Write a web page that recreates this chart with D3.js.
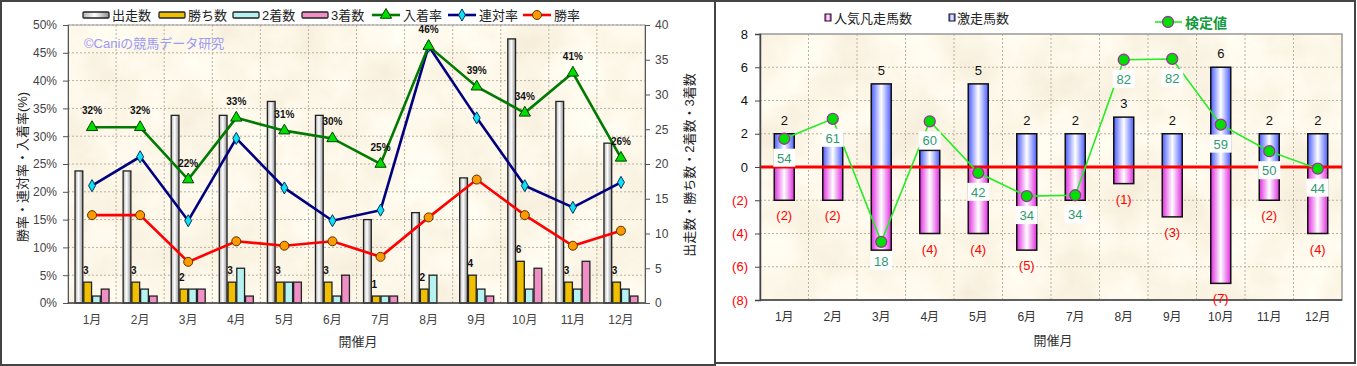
<!DOCTYPE html>
<html><head><meta charset="utf-8">
<script src="https://cdn.jsdelivr.net/npm/d3@7"></script>
<style>body{margin:0;background:#fff}svg{display:block;font-family:"Liberation Sans","Noto Sans CJK JP",sans-serif}</style>
</head><body>
<script>
// ---------- data ----------
const months = ['1月','2月','3月','4月','5月','6月','7月','8月','9月','10月','11月','12月'];
// left chart (counts, right axis)
const starts  = [19,19,27,27,29,27,12,13,18,38,29,23];
const wins    = [3,3,2,3,3,3,1,2,4,6,3,3];
const seconds = [1,2,2,5,3,1,1,4,2,2,2,2];
const thirds  = [2,1,2,1,3,4,1,0,1,5,6,1];
// left chart (rates %, left axis)
const placeRate   = [31.6,31.6,22.2,33.3,31.0,29.6,25.0,46.2,38.9,34.2,41.4,26.1];
const rentaiRate  = [21.1,26.3,14.8,29.6,20.7,14.8,16.7,46.2,33.3,21.1,17.2,21.7];
const winRate     = [15.8,15.8,7.4,11.1,10.3,11.1,8.3,15.4,22.2,15.8,10.3,13.0];
const placeLabels = ['32%','32%','22%','33%','31%','30%','25%','46%','39%','34%','41%','26%'];
const leftPctTicks = [0,5,10,15,20,25,30,35,40,45,50];
const leftCntTicks = [0,5,10,15,20,25,30,35,40];
// right chart
const hotRuns  = [2,2,5,1,5,2,2,3,2,6,2,2];      // 激走馬数
const failRuns = [2,2,5,4,4,5,2,1,3,7,2,4];      // 人気凡走馬数 (drawn downward)
const kenteiPos    = [1.7,2.9,-4.5,2.75,-0.35,-1.75,-1.7,6.45,6.5,2.55,0.95,-0.1];
const kenteiLabels = [54,61,18,60,42,34,34,82,82,59,50,44];
const rightTicks = [-8,-6,-4,-2,0,2,4,6,8];

// ---------- svg ----------
const W = 1357, H = 366;
const svg = d3.select('body').append('svg').attr('width', W).attr('height', H);
const defs = svg.append('defs');

function hGrad(id, edgeL, mid, edgeR, midOff) {
  const g = defs.append('linearGradient').attr('id', id).attr('x1','0').attr('x2','1').attr('y1','0').attr('y2','0');
  g.append('stop').attr('offset','0').attr('stop-color', edgeL);
  g.append('stop').attr('offset', midOff || '0.45').attr('stop-color', mid);
  g.append('stop').attr('offset','1').attr('stop-color', edgeR);
}
hGrad('gStart', '#b4b4b4', '#ffffff', '#8e8e8e', '0.45');
hGrad('gBlue', '#4a5cff', '#ffffff', '#4a5cff', '0.5');
hGrad('gPink', '#e02ce0', '#ffffff', '#e02ce0', '0.5');

const f = defs.append('filter').attr('id','paper').attr('x','0').attr('y','0').attr('width','1').attr('height','1');
f.append('feTurbulence').attr('type','fractalNoise').attr('baseFrequency','0.018').attr('numOctaves','4').attr('seed','7').attr('result','n');
f.append('feColorMatrix').attr('in','n').attr('type','matrix')
  .attr('values','0.16 0 0 0 0.90  0.22 0 0 0 0.82  0.30 0 0 0 0.66  0 0 0 0 1');

// panels
svg.append('rect').attr('x',1).attr('y',1).attr('width',714).attr('height',364).attr('fill','#fff').attr('stroke','#444').attr('stroke-width',2);
svg.append('rect').attr('x',715).attr('y',1).attr('width',640).attr('height',362).attr('fill','#fff').attr('stroke','#444').attr('stroke-width',2);

// ================= LEFT CHART =================
const L = {x0:68, x1:645, y0:25, y1:303};
const xL = d3.scaleBand().domain(months).range([L.x0, L.x1]);
const yPct = d3.scaleLinear().domain([0,50]).range([L.y1, L.y0]);
const yCnt = d3.scaleLinear().domain([0,40]).range([L.y1, L.y0]);
const sub = d3.scaleBand().domain([0,1,2,3]).range([0,35]);
const gL = svg.append('g');

gL.append('rect').attr('x',L.x0).attr('y',L.y0).attr('width',L.x1-L.x0).attr('height',L.y1-L.y0).attr('filter','url(#paper)');
// grid
gL.selectAll('.hg').data(leftPctTicks.slice(1)).join('line')
  .attr('x1',L.x0).attr('x2',L.x1).attr('y1',d=>yPct(d)).attr('y2',d=>yPct(d))
  .attr('stroke','#b8b0a0').attr('stroke-dasharray','2,2');
gL.selectAll('.vg').data(months.slice(1)).join('line')
  .attr('x1',d=>xL(d)).attr('x2',d=>xL(d)).attr('y1',L.y0).attr('y2',L.y1)
  .attr('stroke','#b8b0a0').attr('stroke-dasharray','2,2');
gL.append('rect').attr('x',L.x0).attr('y',L.y0).attr('width',L.x1-L.x0).attr('height',L.y1-L.y0).attr('fill','none').attr('stroke','#999');

const off = (xL.bandwidth() - 35) / 2;
const barSeries = [
  {vals: starts, fill: 'url(#gStart)'},
  {vals: wins, fill: '#f0c000'},
  {vals: seconds, fill: '#b6f2f2'},
  {vals: thirds, fill: '#f08ec6'}
];
barSeries.forEach((s, i) => {
  gL.selectAll(null).data(months).join('rect')
    .attr('x', d => xL(d) + off + sub(i) + 0.5)
    .attr('width', sub.bandwidth() - 1)
    .attr('y', (d, j) => yCnt(s.vals[j]))
    .attr('height', (d, j) => yCnt(0) - yCnt(s.vals[j]))
    .attr('fill', s.fill).attr('stroke', '#222').attr('stroke-width', 1.3)
    .attr('display', (d, j) => s.vals[j] > 0 ? null : 'none');
});
// wins labels
gL.selectAll(null).data(months).join('text')
  .attr('x', d => xL(d) + off + sub(1) + sub.bandwidth()/2 - 2)
  .attr('y', (d, j) => yCnt(wins[j]) - 8)
  .attr('text-anchor','middle').attr('font-size',10).attr('font-weight','bold').attr('fill','#111')
  .text((d, j) => wins[j]);

// axes
const axL = gL.append('g').attr('transform', `translate(${L.x0},0)`)
  .call(d3.axisLeft(yPct).tickValues(leftPctTicks).tickFormat(d => d + '%').tickSize(5).tickPadding(6));
const axR = gL.append('g').attr('transform', `translate(${L.x1},0)`)
  .call(d3.axisRight(yCnt).tickValues(leftCntTicks).tickSize(5).tickPadding(5));
[axL, axR].forEach(a => {
  a.select('.domain').attr('stroke','#555');
  a.selectAll('.tick line').attr('stroke','#555');
  a.selectAll('text').attr('font-size',12).attr('fill','#444').attr('font-family','"Liberation Sans",sans-serif');
});
gL.append('line').attr('x1',L.x0).attr('x2',L.x1).attr('y1',L.y1).attr('y2',L.y1).attr('stroke','#444').attr('stroke-width',1.5);
gL.selectAll(null).data(months).join('text')
  .attr('x', d => xL(d) + xL.bandwidth()/2).attr('y', 324)
  .attr('text-anchor','middle').attr('font-size',12).attr('fill','#444').text(d => d);
gL.append('text').attr('x',358).attr('y',346).attr('text-anchor','middle').attr('font-size',13).attr('fill','#333').text('開催月');
gL.append('text').attr('transform','translate(27,167) rotate(-90)').attr('text-anchor','middle')
  .attr('font-size',13).attr('fill','#222').text('勝率・連対率・入着率(%)');
gL.append('text').attr('transform','translate(694,165) rotate(-90)').attr('text-anchor','middle')
  .attr('font-size',13).attr('fill','#222').text('出走数・勝ち数・2着数・3着数');

// watermark
gL.append('text').attr('x',84).attr('y',48).attr('font-size',13).attr('fill','#9a9af5').text('©Caniの競馬データ研究');

// lines
const cx = d => xL(d) + xL.bandwidth()/2;
const lineSeries = [
  {vals: placeRate, color: '#007a00', sym: 'tri'},
  {vals: rentaiRate, color: '#000080', sym: 'dia'},
  {vals: winRate, color: '#ff0000', sym: 'cir'}
];
[lineSeries[2], lineSeries[1], lineSeries[0]].forEach(s => {
  const ln = d3.line().x((d, j) => cx(months[j])).y(d => yPct(d));
  gL.append('path').attr('d', ln(s.vals)).attr('fill','none').attr('stroke', s.color).attr('stroke-width',2.6);
});
function drawMarker(g, type, x, y) {
  if (type === 'tri') {
    g.append('path').attr('d', d3.symbol(d3.symbolTriangle, 55)()).attr('transform',`translate(${x},${y})`)
      .attr('fill','#00dd00').attr('stroke','#004400').attr('stroke-width',1);
  } else if (type === 'dia') {
    g.append('path').attr('d', d3.symbol(d3.symbolDiamond, 42)()).attr('transform',`translate(${x},${y})`)
      .attr('fill','#10e0f0').attr('stroke','#003366').attr('stroke-width',1);
  } else {
    g.append('circle').attr('cx',x).attr('cy',y).attr('r',4.5)
      .attr('fill','#ff9900').attr('stroke','#553300').attr('stroke-width',1);
  }
}
[lineSeries[2], lineSeries[1], lineSeries[0]].forEach(s => {
  s.vals.forEach((v, j) => drawMarker(gL, s.sym, cx(months[j]), yPct(v)));
});
gL.selectAll(null).data(months).join('text')
  .attr('x', d => cx(d)).attr('y', (d, j) => yPct(placeRate[j]) - 13)
  .attr('text-anchor','middle').attr('font-size',10).attr('font-weight','bold').attr('fill','#111')
  .text((d, j) => placeLabels[j]);

// left legend
const legL = gL.append('g');
const barLeg = [
  {x:83, fill:'url(#gStart)', t:'出走数'},
  {x:159, fill:'#f0c000', t:'勝ち数'},
  {x:233, fill:'#b6f2f2', t:'2着数'},
  {x:302, fill:'#f08ec6', t:'3着数'}
];
barLeg.forEach(b => {
  legL.append('rect').attr('x',b.x).attr('y',12).attr('width',26).attr('height',6).attr('rx',1)
    .attr('fill',b.fill).attr('stroke','#222').attr('stroke-width',1.3);
  legL.append('text').attr('x',b.x+29).attr('y',20).attr('font-size',13).attr('fill','#222').text(b.t);
});
const lineLeg = [
  {x:372, color:'#007a00', sym:'tri', t:'入着率'},
  {x:448, color:'#000080', sym:'dia', t:'連対率'},
  {x:523, color:'#ff0000', sym:'cir', t:'勝率'}
];
lineLeg.forEach(b => {
  legL.append('line').attr('x1',b.x).attr('x2',b.x+28).attr('y1',15).attr('y2',15).attr('stroke',b.color).attr('stroke-width',2.6);
  drawMarker(legL, b.sym, b.x+14, 15);
  legL.append('text').attr('x',b.x+31).attr('y',20).attr('font-size',13).attr('fill','#222').text(b.t);
});

// ================= RIGHT CHART =================
const R = {x0:760, x1:1342, y0:34, y1:300};
const xR = d3.scaleBand().domain(months).range([R.x0, R.x1]);
const yR = d3.scaleLinear().domain([-8,8]).range([R.y1, R.y0]);
const gR = svg.append('g');
gR.append('rect').attr('x',R.x0).attr('y',R.y0).attr('width',R.x1-R.x0).attr('height',R.y1-R.y0).attr('filter','url(#paper)');
gR.selectAll(null).data(rightTicks.slice(1,-1)).join('line')
  .attr('x1',R.x0).attr('x2',R.x1).attr('y1',d=>yR(d)).attr('y2',d=>yR(d))
  .attr('stroke','#b8b0a0').attr('stroke-dasharray','2,2');
gR.selectAll(null).data(months.slice(1)).join('line')
  .attr('x1',d=>xR(d)).attr('x2',d=>xR(d)).attr('y1',R.y0).attr('y2',R.y1)
  .attr('stroke','#b8b0a0').attr('stroke-dasharray','2,2');
gR.append('rect').attr('x',R.x0).attr('y',R.y0).attr('width',R.x1-R.x0).attr('height',R.y1-R.y0).attr('fill','none').attr('stroke','#999').attr('stroke-width',1.5);

const bw = 20;
const rcx = d => xR(d) + xR.bandwidth()/2;
gR.selectAll(null).data(months).join('rect')
  .attr('x', d => rcx(d) - bw/2).attr('width', bw)
  .attr('y', yR(0)).attr('height', (d, j) => yR(-failRuns[j]) - yR(0))
  .attr('fill','url(#gPink)').attr('stroke','#111').attr('stroke-width',1.5);
gR.selectAll(null).data(months).join('rect')
  .attr('x', d => rcx(d) - bw/2).attr('width', bw)
  .attr('y', (d, j) => yR(hotRuns[j])).attr('height', (d, j) => yR(0) - yR(hotRuns[j]))
  .attr('fill','url(#gBlue)').attr('stroke','#111').attr('stroke-width',1.5);
// zero line
gR.append('line').attr('x1',R.x0).attr('x2',R.x1).attr('y1',yR(0)).attr('y2',yR(0)).attr('stroke','#ff0000').attr('stroke-width',3);

// axis
const axR2 = gR.append('g').attr('transform',`translate(${R.x0},0)`)
  .call(d3.axisLeft(yR).tickValues(rightTicks).tickFormat(d => d < 0 ? `(${-d})` : d).tickSize(5).tickPadding(7));
axR2.select('.domain').attr('stroke','#444').attr('stroke-width',1.5);
axR2.selectAll('.tick line').attr('stroke','#444');
axR2.selectAll('text').attr('font-size',13).attr('font-family','"Liberation Sans",sans-serif')
  .attr('fill', d => d < 0 ? '#ff0000' : '#111');
gR.append('line').attr('x1',R.x0).attr('x2',R.x1).attr('y1',R.y1).attr('y2',R.y1).attr('stroke','#444').attr('stroke-width',1.5);

// kentei label boxes (center y) used to hide bar labels that sit beneath them, as in the source chart
const boxY = j => yR(kenteiPos[j]) + 19;
const hiddenBy = (j, ty) => Math.abs(ty - 4 - boxY(j)) < 15 || Math.abs(ty - 4 - yR(kenteiPos[j])) < 8;

// bar labels
gR.selectAll(null).data(months).join('text')
  .attr('x', d => rcx(d)).attr('y', (d, j) => yR(hotRuns[j]) - 9)
  .attr('display', (d, j) => hiddenBy(j, yR(hotRuns[j]) - 9) ? 'none' : null)
  .attr('text-anchor','middle').attr('font-size',13).attr('fill','#111').text((d, j) => hotRuns[j]);
gR.selectAll(null).data(months).join('text')
  .attr('x', d => rcx(d)).attr('y', (d, j) => yR(-failRuns[j]) + 20)
  .attr('display', (d, j) => hiddenBy(j, yR(-failRuns[j]) + 20) ? 'none' : null)
  .attr('text-anchor','middle').attr('font-size',13).attr('fill','#ff0000').text((d, j) => `(${failRuns[j]})`);

// kentei line
const kl = d3.line().x((d, j) => rcx(months[j])).y(d => yR(d));
gR.append('path').attr('d', kl(kenteiPos)).attr('fill','none').attr('stroke','#22ee22').attr('stroke-width',1.6);
gR.selectAll(null).data(months).join('circle')
  .attr('cx', d => rcx(d)).attr('cy', (d, j) => yR(kenteiPos[j])).attr('r',5.5)
  .attr('fill','#00e000').attr('stroke','#993399').attr('stroke-width',1.3);
const lb = gR.selectAll(null).data(months).join('g')
  .attr('transform', (d, j) => `translate(${rcx(d)},${boxY(j)})`);
lb.append('rect').attr('x',-11).attr('y',-9).attr('width',22).attr('height',18).attr('fill','#fff');
lb.append('text').attr('y',5).attr('text-anchor','middle').attr('font-size',13).attr('fill','#2e9a6e')
  .text((d, j) => kenteiLabels[j]);

// x labels
gR.selectAll(null).data(months).join('text')
  .attr('x', d => rcx(d)).attr('y', 321)
  .attr('text-anchor','middle').attr('font-size',12).attr('fill','#333').text(d => d);
gR.append('text').attr('x',1053).attr('y',345).attr('text-anchor','middle').attr('font-size',13).attr('fill','#333').text('開催月');

// right legends
const legR = gR.append('g');
legR.append('rect').attr('x',825).attr('y',14).attr('width',6).attr('height',7).attr('fill','url(#gPink)').attr('stroke','#111');
legR.append('text').attr('x',834).attr('y',23).attr('font-size',13).attr('fill','#222').text('人気凡走馬数');
legR.append('rect').attr('x',949).attr('y',14).attr('width',6).attr('height',7).attr('fill','url(#gBlue)').attr('stroke','#111');
legR.append('text').attr('x',957).attr('y',23).attr('font-size',13).attr('fill','#222').text('激走馬数');
legR.append('line').attr('x1',1155).attr('x2',1182).attr('y1',22).attr('y2',22).attr('stroke','#22ee22').attr('stroke-width',1.6);
legR.append('circle').attr('cx',1168).attr('cy',22).attr('r',5.5).attr('fill','#00e000').attr('stroke','#993399').attr('stroke-width',1.3);
legR.append('text').attr('x',1185).attr('y',28).attr('font-size',14).attr('font-weight','bold').attr('fill','#129a3a').text('検定値');
</script>
</body></html>
